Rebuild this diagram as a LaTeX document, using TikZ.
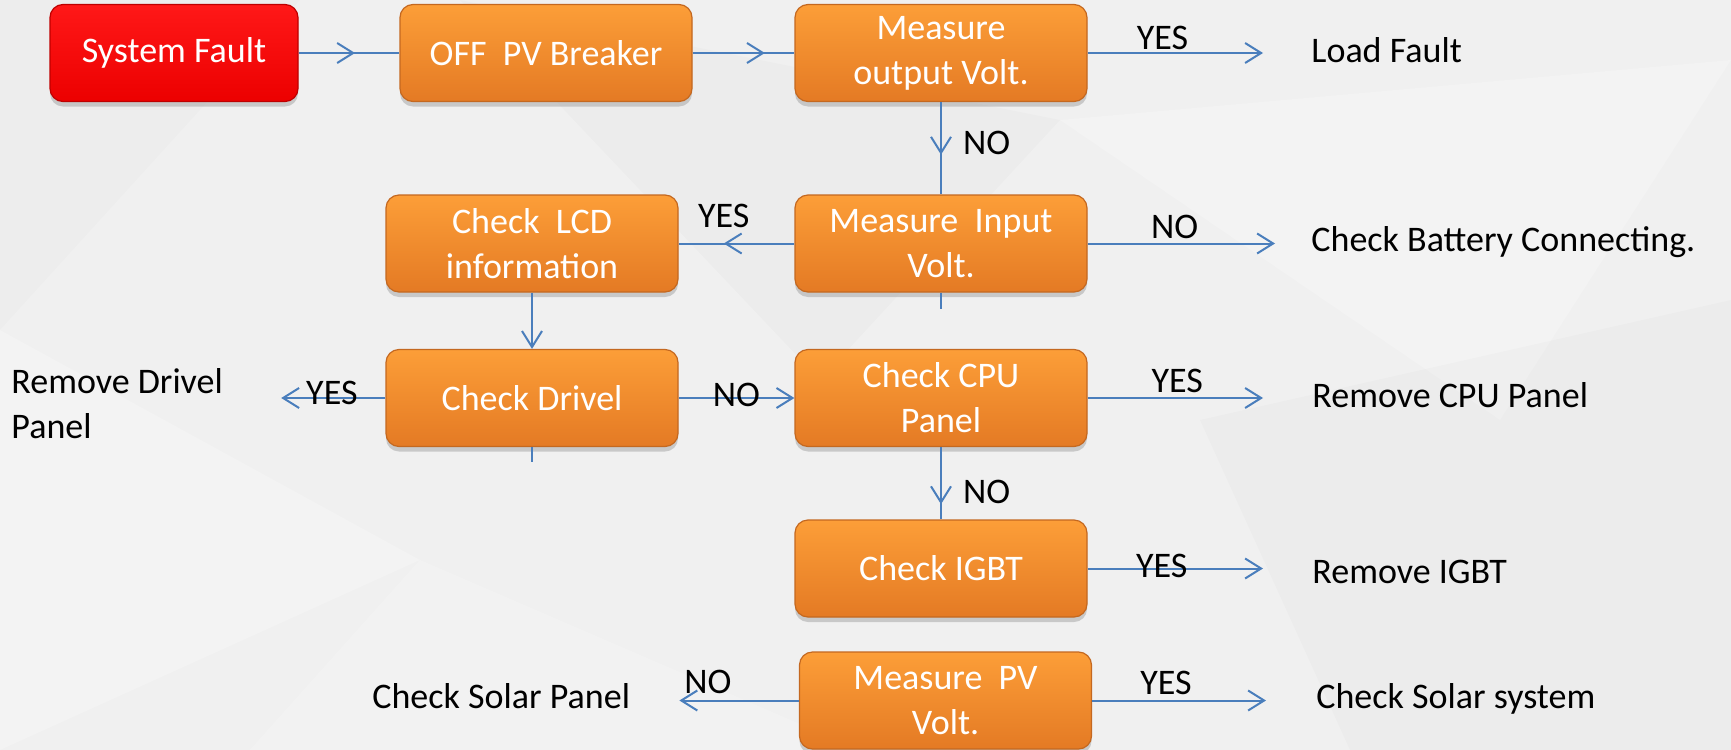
\documentclass[tikz,border=0pt]{standalone}
\usepackage{fontspec}
\setmainfont{Carlito}
\usepackage{tikz}
\usetikzlibrary{arrows.meta, shadows, decorations.markings}
\definecolor{linkblue}{RGB}{74,126,188}
\definecolor{orangetop}{RGB}{252,158,56}
\definecolor{orangebot}{RGB}{228,122,36}
\definecolor{orangeedge}{RGB}{196,104,32}
\definecolor{redtop}{RGB}{255,24,24}
\definecolor{redbot}{RGB}{236,0,0}
\definecolor{rededge}{RGB}{190,0,0}
\definecolor{bgcolor}{RGB}{240,240,240}
\tikzset{>={Straight Barb[length=8pt,width=10pt]}}
\tikzset{
  box/.style={rectangle, rounded corners=6.5pt, minimum width=146pt, minimum height=48.5pt,
    align=center, text=white, top color=orangetop, bottom color=orangebot, draw=orangeedge,
    line width=0.6pt, drop shadow={shadow xshift=0pt, shadow yshift=-2.5pt, opacity=.35}},
  redbox/.style={box, minimum width=124pt, top color=redtop, bottom color=redbot, draw=rededge},
  result/.style={inner sep=0pt, align=left},
  lbl/.style={inner sep=0pt},
  link/.style={draw=linkblue, line width=1pt},
  midarrow/.style={postaction={decorate}, decoration={markings, mark=at position #1 with {\arrow[linkblue]{>}}}}
}

\begin{document}
\begin{tikzpicture}[x=0.5pt, y=-0.5pt, font=\fontsize{18}{22.5}\selectfont]
    \useasboundingbox (0,0) rectangle (1731,750);
    \fill[bgcolor] (0,0) rectangle (1731,750);
    \fill[white, opacity=.2] (0,330) -- (420,560) -- (0,750) -- cycle;
    \fill[white, opacity=.18] (420,560) -- (860,750) -- (250,750) -- cycle;
    \fill[black, opacity=.015] (460,0) -- (820,380) -- (1060,120) -- cycle;
    \fill[white, opacity=.2] (1060,120) -- (1731,60) -- (1500,420) -- cycle;
    \fill[black, opacity=.015] (1200,420) -- (1731,300) -- (1731,750) -- (1350,750) -- cycle;
    \fill[black, opacity=.012] (0,0) -- (300,0) -- (0,330) -- cycle;

    \node[redbox] (fault) at (174,53) {System Fault};
    \node[box] (breaker) at (546,53) {OFF~ PV Breaker};
    \node[box] (outvolt) at (941,53) {Measure\\output Volt.};
    \node[box] (involt) at (941,243.5) {Measure~ Input\\Volt.};
    \node[box] (lcd) at (532,243.5) {Check~ LCD\\information};
    \node[box] (drivel) at (532,398) {Check Drivel};
    \node[box] (cpu) at (941,398) {Check CPU\\Panel};
    \node[box] (igbt) at (941,568.5) {Check IGBT};
    \node[box] (pvvolt) at (945.5,700.5) {Measure~ PV\\Volt.};

    \node[result, anchor=base west] (loadfault) at (1311,62) {Load Fault};
    \node[result, anchor=base west] (battery) at (1311,251) {Check Battery Connecting.};
    \node[result, anchor=base west] (rmcpu) at (1312,407) {Remove CPU Panel};
    \node[result, anchor=base west] (rmigbt) at (1312,583) {Remove IGBT};
    \node[result, anchor=base west] (solarsys) at (1316,708) {Check Solar system};
    \node[result, anchor=base west] (solarpanel) at (372,708) {Check Solar Panel};
    \node[result, anchor=west] (rmdrivel) at (11,404) {Remove Drivel\\Panel};

    \draw[link, midarrow=0.56] (fault) -- (breaker);
    \draw[link, midarrow=0.71] (breaker) -- (outvolt);
    \draw[link, ->, shorten >=24pt] (outvolt) -- (outvolt -| loadfault.west) node[lbl, pos=0.335, above=1pt] {YES};
    \draw[link, midarrow=0.57] (outvolt) -- (involt) node[lbl, pos=0.44, right=10.5pt] {NO};
    \draw[link, midarrow=0.61] (involt) -- (lcd) node[lbl, pos=0.61, above=7.5pt] {YES};
    \draw[link, ->, shorten >=18pt] (involt) -- (involt -| battery.west) node[lbl, pos=0.39, above=2pt] {NO};
    \draw[link] (involt.south) -- ++(0,16);
    \draw[link, ->] (lcd) -- (drivel);
    \draw[link, ->, shorten >=29pt] (drivel) -- (drivel -| rmdrivel.east) node[lbl, pos=0.33, yshift=2.5pt] {YES};
    \draw[link, ->] (drivel) -- (cpu) node[lbl, pos=0.5, yshift=1.5pt] {NO};
    \draw[link] (drivel.south) -- ++(0,15);
    \draw[link, ->, shorten >=24.5pt] (cpu) -- (cpu -| rmcpu.west) node[lbl, pos=0.4, above=2pt] {YES};
    \draw[link, midarrow=0.79] (cpu) -- (igbt) node[lbl, pos=0.62, right=10.5pt] {NO};
    \draw[link, ->, shorten >=24.5pt] (igbt) -- (igbt -| rmigbt.west) node[lbl, pos=0.33, yshift=1.5pt] {YES};
    \draw[link, ->, shorten >=25pt] (pvvolt) -- (pvvolt -| solarsys.west) node[lbl, pos=0.33, above=2.5pt] {YES};
    \draw[link, ->, shorten >=24.5pt] (pvvolt) -- (pvvolt -| solarpanel.east) node[lbl, pos=0.54, above=3pt] {NO};
\end{tikzpicture}
\end{document}
